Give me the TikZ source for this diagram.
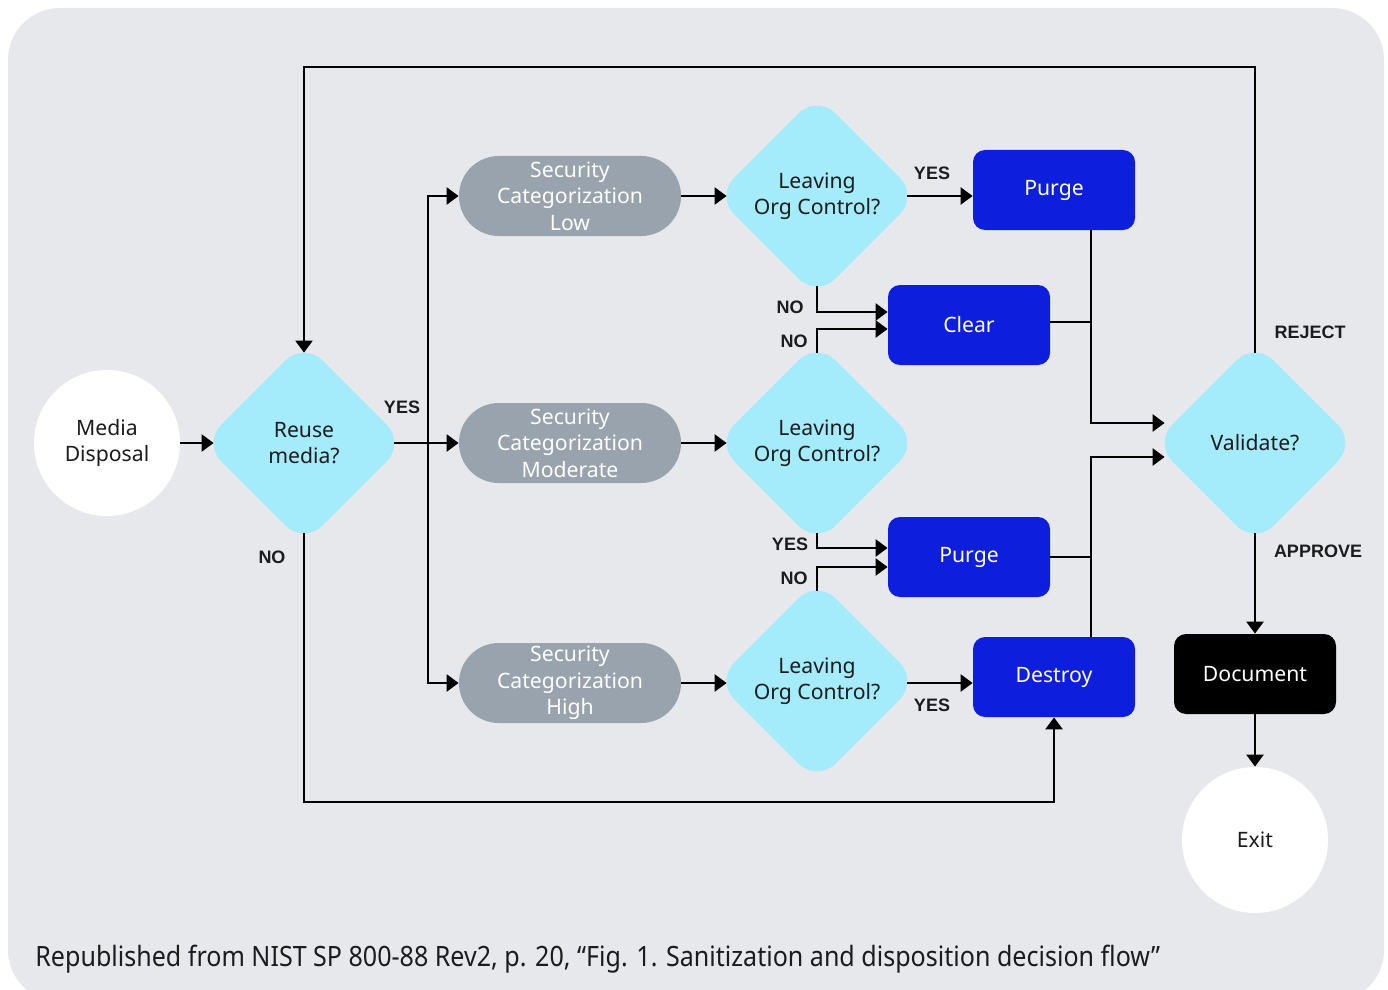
\documentclass[tikz,border=0pt]{standalone}
\usepackage{fontspec}
\setmainfont{Noto Sans}
\newfontfamily\captionfont[FakeStretch=0.895]{Noto Sans}
\newfontfamily\labelfont{Liberation Sans}
\usepackage{tikz}
\usetikzlibrary{shapes.geometric,arrows.meta,calc}

\definecolor{bgcol}{HTML}{E7E8EC}
\definecolor{cyanfill}{HTML}{A4EBFC}
\definecolor{pillgray}{HTML}{99A3AE}
\definecolor{actblue}{HTML}{0D1FDC}
\definecolor{inkcol}{HTML}{1C1C1C}

\newcommand{\nodefont}{\fontsize{10.6}{13.2}\selectfont}

\tikzset{
  decision/.style={diamond, aspect=1, fill=cyanfill, minimum width=98pt, minimum height=98pt,
    inner sep=0pt, rounded corners=13pt, outer sep=-3.8pt, align=center, font=\nodefont, text=inkcol},
  category/.style={rectangle, fill=pillgray, minimum width=111pt, minimum height=40pt,
    inner sep=0pt, rounded corners=19.9pt, align=center, font=\nodefont, text=white},
  action/.style={rectangle, fill=actblue, minimum width=81pt, minimum height=40pt,
    inner sep=0pt, rounded corners=6pt, align=center, font=\nodefont, text=white},
  docbox/.style={action, fill=black},
  terminal/.style={circle, fill=white, minimum size=73pt, inner sep=0pt, align=center,
    font=\nodefont, text=inkcol},
  flowlabel/.style={font=\labelfont\bfseries\fontsize{9}{10}\selectfont, text=inkcol, inner sep=0pt},
  flow/.style={line width=1.3pt, -{Triangle[length=6pt,width=8.5pt]}},
  link/.style={line width=1.3pt}
}

\begin{document}
\begin{tikzpicture}[x=0.5pt,y=-0.5pt]

        % Page and panel
        \useasboundingbox (0,0) rectangle (1388,990);
        \clip (0,0) rectangle (1388,990);
        \fill[white] (0,0) rectangle (1388,990);
        \fill[bgcol, rounded corners=26pt] (8,8) rectangle (1384,1002);

        % Start, reuse decision and categories
        \node[terminal] (media) at (107,443) {Media\\Disposal};
        \node[decision] (reuse) at (304,443) {Reuse\\media?};
        \node[category] (catlow) at (570,196) {Security\\Categorization\\Low};
        \node[category] (catmod) at (570,443) {Security\\Categorization\\Moderate};
        \node[category] (cathigh) at (570,683) {Security\\Categorization\\High};

        % Leaving org control decisions
        \node[decision] (leavelow) at (817,196) {Leaving\\Org Control?};
        \node[decision] (leavemod) at (817,443) {Leaving\\Org Control?};
        \node[decision] (leavehigh) at (817,681) {Leaving\\Org Control?};

        % Sanitization actions
        \node[action] (purgelow) at (1054,190) {Purge};
        \node[action] (clear) at (969,325) {Clear};
        \node[action] (purgemod) at (969,557) {Purge};
        \node[action] (destroy) at (1054,677) {Destroy};

        % Validation and exit
        \node[decision] (validate) at (1255,443) {Validate?};
        \node[docbox] (document) at (1255,674) {Document};
        \node[terminal] (exit) at (1255,840) {Exit};

        % Bend points
        \coordinate (split) at (428,443);
        \coordinate (rejtop) at (304,67);
        \coordinate (nobot) at (304,802);
        \coordinate (busup) at (1091,423);
        \coordinate (buslow) at (1091,457);

        % Main line
        \draw[flow] (media) -- (reuse);
        \draw[flow] (reuse) -- (catmod);
        \draw[flow] (split) |- (catlow.west);
        \draw[flow] (split) |- (cathigh.west);
        \draw[flow] (catlow) -- (leavelow);
        \draw[flow] (catmod) -- (leavemod);
        \draw[flow] (cathigh.east) -- (cathigh.east -| leavehigh.west);

        % Leaving org control outcomes
        \draw[flow] (leavelow.east) -- (leavelow.east -| purgelow.west);
        \draw[flow] (leavelow.south) |- ($(clear.west)+(0,-13)$);
        \draw[flow] (leavemod.north) |- ($(clear.west)+(0,4)$);
        \draw[flow] (leavemod.south) |- ($(purgemod.west)+(0,-9)$);
        \draw[flow] (leavehigh.north) |- ($(purgemod.west)+(0,10)$);
        \draw[flow] (cathigh.east -| leavehigh.east) -- (cathigh.east -| destroy.west);

        % Collect into validation
        \draw[flow] (purgelow.south -| busup) -- (busup) -- (busup -| validate.west);
        \draw[link] ($(clear.east)+(0,-3)$) -- ($(clear.east -| busup)+(0,-3)$);
        \draw[flow] (destroy.north -| buslow) -- (buslow) -- (buslow -| validate.west);
        \draw[link] (purgemod.east) -- (purgemod.east -| buslow);

        % Reject, approve and no-reuse paths
        \draw[flow] (validate.north) |- (rejtop) -- (reuse.north);
        \draw[flow] (validate) -- (document);
        \draw[flow] (document) -- (exit);
        \draw[flow] (reuse.south) -- (nobot) -| (destroy.south);

        % Labels
        \node[flowlabel] (lbyes) at (402,407) {YES};
        \node[flowlabel] (lbno) at (272,557) {NO};
        \node[flowlabel] (lbyes1) at (932,173) {YES};
        \node[flowlabel] (lbno1) at (790,307) {NO};
        \node[flowlabel] (lbno2) at (794,341) {NO};
        \node[flowlabel] (lbyes2) at (790,544) {YES};
        \node[flowlabel] (lbno3) at (794,578) {NO};
        \node[flowlabel] (lbyes3) at (932,705) {YES};
        \node[flowlabel] (lbreject) at (1310,332) {REJECT};
        \node[flowlabel] (lbapprove) at (1318,551) {APPROVE};

        % Source note
        \node[anchor=west, inner sep=0pt, text=inkcol, font=\captionfont\fontsize{14}{16}\selectfont]
          (source) at (35,959) {Republished from NIST SP 800-88 Rev2, p. 20, “Fig. 1. Sanitization and disposition decision flow”};

\end{tikzpicture}
\end{document}
